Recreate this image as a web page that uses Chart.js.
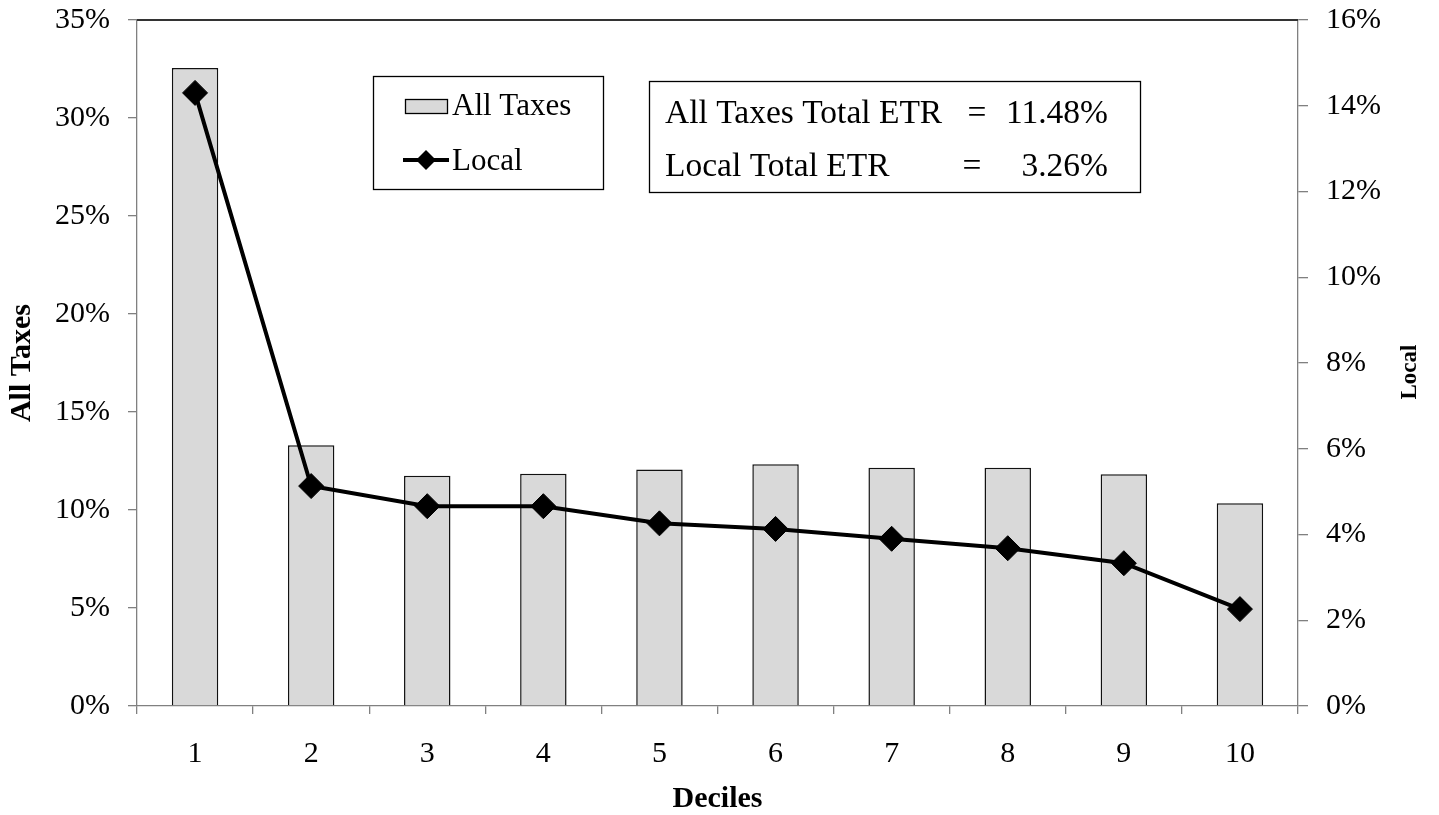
<!DOCTYPE html>
<html><head><meta charset="utf-8">
<script src="https://cdn.jsdelivr.net/npm/chart.js@4.4.1/dist/chart.umd.min.js"></script>
<style>html,body{margin:0;padding:0;background:#fff;}#wrap{width:1439px;height:815px;position:relative}</style>
</head><body><div id="wrap"><canvas id="c" width="1439" height="815"></canvas></div>
<script>
const deciles = ['1','2','3','4','5','6','7','8','9','10'];
const allTaxes = [32.55, 13.3, 11.75, 11.85, 12.07, 12.33, 12.16, 12.16, 11.82, 10.34];
const local = [14.3, 5.13, 4.66, 4.66, 4.26, 4.13, 3.90, 3.68, 3.33, 2.26];
const leftTicks = [0, 5, 10, 15, 20, 25, 30, 35];
const rightTicks = [0, 2, 4, 6, 8, 10, 12, 14, 16];
const summaryLines = [
  ['All Taxes Total ETR', '=', '11.48%'],
  ['Local Total ETR', '=', '3.26%']
];
const xTitle = 'Deciles';
const leftTitle = 'All Taxes';
const rightTitle = 'Local';

const FAM = "'Liberation Serif', 'Times New Roman', serif";
const tickFont = {family: FAM, size: 30};
const titleFont = {family: FAM, size: 30, weight: 'bold'};

const framePlugin = {
  id: 'frame',
  afterDatasetsDraw(chart) {
    const {ctx, chartArea: a} = chart;
    ctx.save();
    ctx.strokeStyle = '#333';
    ctx.lineWidth = 2;
    ctx.beginPath();
    ctx.moveTo(a.left, a.top);
    ctx.lineTo(a.right, a.top);
    ctx.stroke();
    ctx.restore();
  }
};

const rightTitlePlugin = {
  id: 'rightTitle',
  afterDraw(chart) {
    const {ctx} = chart;
    ctx.save();
    ctx.translate(1410, 372);
    ctx.rotate(-Math.PI / 2);
    ctx.font = "bold 23px " + FAM;
    ctx.fillStyle = '#000';
    ctx.textAlign = 'center';
    ctx.textBaseline = 'middle';
    ctx.fillText(rightTitle, 0, 0);
    ctx.restore();
  }
};

const legendPlugin = {
  id: 'boxLegend',
  afterDraw(chart) {
    const {ctx} = chart;
    const ds = chart.data.datasets;
    const bar = ds.find(d => d.type === 'bar');
    const line = ds.find(d => d.type === 'line');
    ctx.save();
    ctx.fillStyle = '#fff';
    ctx.fillRect(373, 76, 230, 113);
    ctx.strokeStyle = '#000';
    ctx.lineWidth = 1.3;
    ctx.strokeRect(373.5, 76.5, 230, 113);
    // bar item
    ctx.fillStyle = bar.backgroundColor;
    ctx.fillRect(405, 99, 42, 14);
    ctx.strokeStyle = '#000';
    ctx.lineWidth = 1.3;
    ctx.strokeRect(405.5, 99.5, 42, 14);
    // line item
    ctx.strokeStyle = line.borderColor;
    ctx.lineWidth = 4;
    ctx.beginPath();
    ctx.moveTo(403, 160);
    ctx.lineTo(449, 160);
    ctx.stroke();
    ctx.fillStyle = line.pointBackgroundColor;
    ctx.beginPath();
    ctx.moveTo(426, 150); ctx.lineTo(436, 160); ctx.lineTo(426, 170); ctx.lineTo(416, 160);
    ctx.closePath();
    ctx.fill();
    ctx.fillStyle = '#000';
    ctx.font = "31px " + FAM;
    ctx.textBaseline = 'middle';
    ctx.textAlign = 'left';
    ctx.fillText(bar.label, 452, 107);
    ctx.fillText(line.label, 452, 162);
    ctx.restore();
  }
};

const summaryPlugin = {
  id: 'summaryBox',
  afterDraw(chart) {
    const {ctx} = chart;
    ctx.save();
    ctx.fillStyle = '#fff';
    ctx.fillRect(649, 81, 491, 111);
    ctx.strokeStyle = '#000';
    ctx.lineWidth = 1.3;
    ctx.strokeRect(649.5, 81.5, 491, 111);
    ctx.fillStyle = '#000';
    ctx.font = "33.5px " + FAM;
    ctx.textBaseline = 'middle';
    const ys = [114, 167];
    const eqX = [977, 972];
    summaryLines.forEach((ln, i) => {
      ctx.textAlign = 'left';
      ctx.fillText(ln[0], 665, ys[i]);
      ctx.textAlign = 'center';
      ctx.fillText(ln[1], eqX[i], ys[i]);
      ctx.textAlign = 'right';
      ctx.fillText(ln[2], 1108, ys[i]);
    });
    ctx.restore();
  }
};

new Chart(document.getElementById('c'), {
  data: {
    labels: deciles,
    datasets: [
      {
        type: 'line', label: 'Local', data: local, yAxisID: 'y1', order: 1,
        borderColor: '#000', borderWidth: 4, tension: 0,
        pointStyle: 'rectRot', pointRadius: 12.5, pointBackgroundColor: '#000',
        pointBorderColor: '#000', pointBorderWidth: 1
      },
      {
        type: 'bar', label: 'All Taxes', data: allTaxes, yAxisID: 'y', order: 2,
        backgroundColor: '#d9d9d9', borderColor: '#111', borderWidth: 1.5,
        barPercentage: 0.4, categoryPercentage: 1.0
      }
    ]
  },
  options: {
    responsive: false,
    animation: false,
    devicePixelRatio: 1,
    layout: {padding: {top: 20, left: 0, right: 0, bottom: 0}},
    plugins: {legend: {display: false}, tooltip: {enabled: false}, title: {display: false}},
    scales: {
      x: {
        type: 'category',
        grid: {offset: true, drawOnChartArea: false, drawTicks: true, tickLength: 8, color: '#808080', lineWidth: 1.3},
        border: {color: '#808080', width: 1.3},
        ticks: {font: tickFont, color: '#000', padding: 22, maxRotation: 0},
        title: {display: true, text: xTitle, font: titleFont, color: '#000', padding: {top: 0, bottom: -2}},
        afterFit: s => { s.height = 109; s.paddingLeft = 0; s.paddingRight = 0; }
      },
      y: {
        position: 'left', min: 0, max: 35,
        afterBuildTicks: s => { s.ticks = leftTicks.map(v => ({value: v})); },
        ticks: {font: tickFont, color: '#000', padding: 18, callback: v => v + '%'},
        grid: {drawOnChartArea: false, tickLength: 9, color: '#808080', lineWidth: 1.3},
        border: {color: '#808080', width: 1.3},
        title: {display: true, text: leftTitle, font: titleFont, color: '#000', padding: {top: 4, bottom: 0}},
        afterFit: s => { s.width = 137; s.paddingTop = 0; s.paddingBottom = 0; }
      },
      y1: {
        position: 'right', min: 0, max: 16,
        afterBuildTicks: s => { s.ticks = rightTicks.map(v => ({value: v})); },
        ticks: {font: tickFont, color: '#000', padding: 18, callback: v => v + '%'},
        grid: {drawOnChartArea: false, tickLength: 10, color: '#808080', lineWidth: 1.3},
        border: {color: '#808080', width: 1.3},
        afterFit: s => { s.width = 141; s.paddingTop = 0; s.paddingBottom = 0; }
      }
    }
  },
  plugins: [framePlugin, legendPlugin, summaryPlugin, rightTitlePlugin]
});
</script></body></html>
